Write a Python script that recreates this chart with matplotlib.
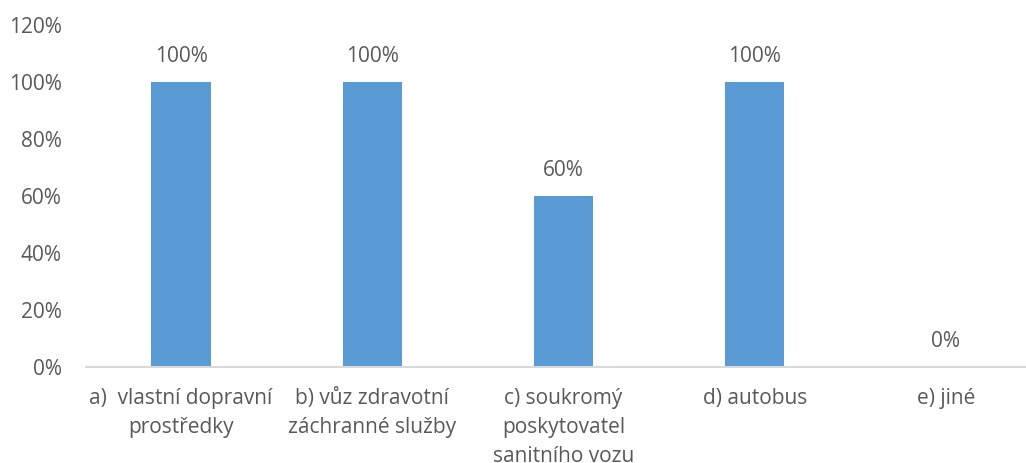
import matplotlib.pyplot as plt
from matplotlib.ticker import PercentFormatter

categories = [
    "a)  vlastní dopravní\nprostředky",
    "b) vůz zdravotní\nzáchranné služby",
    "c) soukromý\nposkytovatel\nsanitního vozu",
    "d) autobus",
    "e) jiné",
]
values = [100, 100, 60, 100, 0]
y_ticks = [0, 20, 40, 60, 80, 100, 120]

BAR = "#5B9BD5"
TEXT = "#595959"

plt.rcParams["font.family"] = ["Open Sans", "DejaVu Sans"]

fig = plt.figure(figsize=(10.26, 4.63), dpi=100)
ax = fig.add_axes([85.5 / 1026, (463 - 367) / 463, 956 / 1026, 342 / 463])

x = range(len(categories))
bars = ax.bar(x, values, width=0.31, color=BAR)
for rect, v in zip(bars, values):
    ax.annotate(f"{v}%", (rect.get_x() + rect.get_width() / 2, v),
                xytext=(0, 11), textcoords="offset points",
                ha="center", va="bottom", fontsize=15, color=TEXT)

ax.set_xlim(-0.5, len(categories) - 0.5)
ax.set_ylim(0, 120)
ax.set_yticks(y_ticks)
ax.yaxis.set_major_formatter(PercentFormatter(decimals=0))
ax.set_xticks(list(x))
ax.set_xticklabels(categories, linespacing=1.5)
ax.tick_params(axis="both", length=0, labelsize=15, colors=TEXT)
ax.tick_params(axis="y", pad=17)
ax.tick_params(axis="x", pad=15)

for side in ("top", "right", "left"):
    ax.spines[side].set_visible(False)
ax.spines["bottom"].set_color("#D9D9D9")
ax.spines["bottom"].set_linewidth(1.5)

fig.savefig("out.png", dpi=100)
